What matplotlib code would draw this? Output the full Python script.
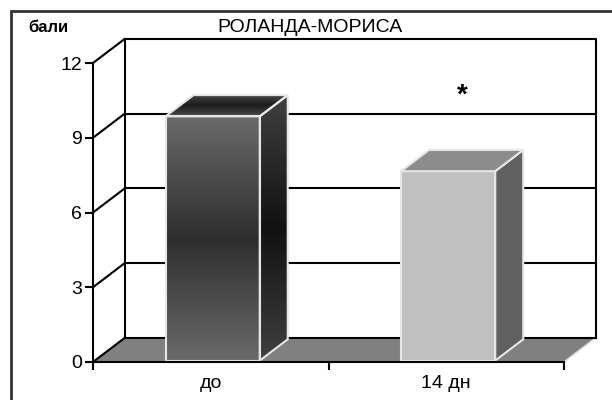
import numpy as np
import matplotlib
matplotlib.use('Agg')
import matplotlib.pyplot as plt
from matplotlib.patches import Polygon, Rectangle
from matplotlib.colors import LinearSegmentedColormap

plt.rcParams['font.family'] = ['Liberation Sans', 'DejaVu Sans']

# data
categories = ['до', '14 дн']
values = [9.8, 7.6]
yticks = [0, 3, 6, 9, 12]
title = 'РОЛАНДА-МОРИСА'
unit_label = 'бали'
sig_mark = '*'

# 3d look (data units)
DX, DY = 0.135, 0.97
BAR_W = 0.4
F0, F1 = 0.06, 0.94

fig = plt.figure(figsize=(6.12, 4.0), dpi=100)
ax = fig.add_axes([93 / 612, 38 / 400, 471 / 612, 299 / 400])
ax.set_facecolor('none')

line_kw = dict(color='black', lw=1.5, clip_on=False, zorder=1)

# floor
floor = Polygon([(0, 0), (2, 0), (2 + DX, DY), (DX, DY)], closed=True,
                facecolor='#808080', edgecolor='none', clip_on=False, zorder=0.5)
ax.add_patch(floor)
ax.plot([2, 2 + DX], [0, DY], color='#e0e0e0', lw=1.2, clip_on=False, zorder=0.6)

# back wall + side wall
ax.plot([DX, DX, 2 + DX, 2 + DX], [DY, 12 + DY, 12 + DY, DY], **line_kw)
ax.plot([DX, 2 + DX], [DY, DY], **line_kw)
for v in yticks:
    ax.plot([0, DX], [v, v + DY], **line_kw)
    if 0 < v < 12:
        ax.plot([DX, 2 + DX], [v + DY, v + DY], **line_kw)

grad = np.abs(np.linspace(-1, 1, 256)).reshape(-1, 1)


def grad_face(verts, colors):
    cmap = LinearSegmentedColormap.from_list('g', colors)
    xs = [p[0] for p in verts]
    ys = [p[1] for p in verts]
    im = ax.imshow(grad, cmap=cmap, extent=[min(xs), max(xs), min(ys), max(ys)],
                   aspect='auto', origin='lower', zorder=3, vmin=0, vmax=1)
    im.set_clip_path(Polygon(verts, closed=True, transform=ax.transData))


edge = '#e6e6e6'
for i, v in enumerate(values):
    c = i + 0.5
    x0 = c - BAR_W / 2 + F0 * DX
    x1 = c + BAR_W / 2 + F0 * DX
    yb = F0 * DY
    top = v + F0 * DY
    ddx, ddy = (F1 - F0) * DX, (F1 - F0) * DY
    front = [(x0, yb), (x1, yb), (x1, top), (x0, top)]
    side = [(x1, yb), (x1 + ddx, yb + ddy), (x1 + ddx, top + ddy), (x1, top)]
    lid = [(x0, top), (x1, top), (x1 + ddx, top + ddy), (x0 + ddx, top + ddy)]
    if i == 0:
        grad_face(front, ['#2e2e2e', '#6a6a6a'])
        grad_face(side, ['#111111', '#404040'])
        grad_face(lid, ['#1c1c1c', '#484848'])
        for f in (front, side, lid):
            ax.add_patch(Polygon(f, closed=True, facecolor='none', edgecolor=edge,
                                 lw=1.5, zorder=4))
    else:
        for f, col in ((front, '#c0c0c0'), (side, '#606060'), (lid, '#8c8c8c')):
            ax.add_patch(Polygon(f, closed=True, facecolor=col, edgecolor=edge,
                                 lw=1.5, zorder=4))

ax.text(1 + 0.57, values[1] + 3.1, sig_mark, ha='center', va='center',
        fontsize=20, fontweight='bold')

ax.set_xlim(0, 2)
ax.set_ylim(0, 12)
for s in ('top', 'right'):
    ax.spines[s].set_visible(False)
for s in ('left', 'bottom'):
    ax.spines[s].set_linewidth(1.5)
    ax.spines[s].set_zorder(5)
ax.set_yticks(yticks)
ax.tick_params(axis='y', direction='out', length=6, width=1.5, labelsize=14, pad=2)
ax.set_xticks([0, 1, 2])
ax.set_xticklabels([])
ax.set_xticks([0.5, 1.5], minor=True)
ax.set_xticklabels(categories, minor=True)
ax.tick_params(axis='x', which='major', direction='out', length=6, width=1.5)
ax.tick_params(axis='x', which='minor', length=0, labelsize=14, pad=9)

fig.text(310 / 612, 1 - 27 / 400, title, ha='center', va='center', fontsize=14)
fig.text(28 / 612, 1 - 27 / 400, unit_label, ha='left', va='center',
         fontsize=12, fontweight='bold')

fig.add_artist(Rectangle((11 / 612, -0.1), 1.2, 1.1 - 11 / 400, fill=False,
                         edgecolor='#333333', lw=2, transform=fig.transFigure))

fig.savefig('out.png', dpi=100)
